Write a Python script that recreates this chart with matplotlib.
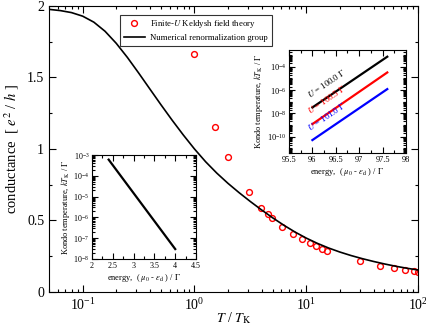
import numpy as np
import matplotlib
matplotlib.use("Agg")
import matplotlib.pyplot as plt
from matplotlib.ticker import LogLocator, MultipleLocator, FixedLocator, NullFormatter

plt.rcParams["font.family"] = ["Liberation Serif", "DejaVu Serif"]
plt.rcParams["mathtext.fontset"] = "stix"

# Keldysh field theory points (red open circles)
kft_t = [1.0, 1.53, 2.0, 3.06, 3.95, 4.59, 4.96, 6.09, 7.69, 9.2, 10.7, 12.2,
         13.7, 15.2, 30.5, 45.8, 60.7, 76.7, 91.6, 99.0]
kft_g = [1.664, 1.154, 0.944, 0.697, 0.590, 0.543, 0.515, 0.457, 0.406, 0.368,
         0.340, 0.319, 0.303, 0.289, 0.215, 0.182, 0.166, 0.154, 0.145, 0.142]

# NRG curve
nrg_t = [0.05, 0.0631, 0.0794, 0.1, 0.1259, 0.1585, 0.1995, 0.2512, 0.3162,
         0.3981, 0.5012, 0.631, 0.7943, 1.0, 1.259, 1.585, 1.995, 2.512, 3.162,
         3.981, 5.012, 6.31, 7.943, 10.0, 12.59, 15.85, 19.95, 25.12, 31.62,
         39.81, 50.12, 63.1, 79.43, 100.0]
nrg_g = [1.976, 1.9675, 1.9535, 1.9285, 1.8865, 1.823, 1.739, 1.64, 1.532,
         1.4205, 1.3095, 1.2015, 1.098, 1.0, 0.9105, 0.831, 0.7595, 0.694,
         0.6325, 0.574, 0.5185, 0.4665, 0.419, 0.3768, 0.3398, 0.3075, 0.2795,
         0.255, 0.2333, 0.2138, 0.196, 0.18, 0.166, 0.1538]

# left inset: Kondo temperature vs energy
inset1_e = [2.4, 4.0]
inset1_tk = [6e-4, 3e-8]

# right inset: three U values
inset2_e = [96.0, 97.6]
inset2_u_labels = [r"$U$ = 100.0 $\Gamma$", r"$U$ = 100.5 $\Gamma$", r"$U$ = 101.0 $\Gamma$"]
inset2_tk = [[3.2e-8, 7.2e-4], [1.2e-9, 3.2e-5], [5.1e-11, 1.2e-6]]
inset2_colors = ["black", "#ff0000", "#0000ff"]
inset2_label_y = [1.4e-7, 5.5e-9, 2.2e-10]


def style_ticks(ax, size_major=5, size_minor=2.5, labelsize=9):
    ax.tick_params(which="both", direction="in", top=True, right=True,
                   labelsize=labelsize, width=0.8)
    ax.tick_params(which="major", length=size_major)
    ax.tick_params(which="minor", length=size_minor)


fig = plt.figure(figsize=(4.27, 3.30), dpi=100)
ax = fig.add_axes([0.1148, 0.1152, 0.8642, 0.8668])

ax.plot(kft_t, kft_g, linestyle="none", marker="o", markersize=4.2,
        markerfacecolor="none", markeredgecolor="#ff0000", markeredgewidth=1.0,
        label=r"Finite-$U$ Keldysh field theory")
ax.plot(nrg_t, nrg_g, color="black", linewidth=1.2,
        label="Numerical renormalization group")

ax.set_xscale("log")
ax.set_xlim(0.05, 100)
ax.set_ylim(0, 2)
ax.yaxis.set_minor_locator(MultipleLocator(0.25))
ax.set_yticks([0, 0.5, 1, 1.5, 2])
ax.set_yticklabels(["0", "0.5", "1", "1.5", "2"])
ax.xaxis.set_major_locator(FixedLocator([0.1, 1, 10, 100]))
ax.xaxis.set_minor_locator(LogLocator(base=10, subs=np.arange(2, 10)))
ax.xaxis.set_minor_formatter(NullFormatter())
style_ticks(ax, labelsize=10)
ax.tick_params(axis="x", pad=4)

ax.set_xlabel(r"$T$ / $T_{\rm K}$", fontsize=10, va="center")
ax.xaxis.set_label_coords(0.5, -0.09)
ax.set_ylabel(r"conductance  [ $e^2$ / $h$ ]", fontsize=10.5, labelpad=4)

leg = ax.legend(loc="upper left", bbox_to_anchor=(0.192, 0.97), fontsize=6.3,
                frameon=True, fancybox=False, borderpad=0.45, handlelength=2.4,
                labelspacing=0.35, handletextpad=0.6, borderaxespad=0)
leg.get_frame().set_edgecolor("black")
leg.get_frame().set_linewidth(0.8)

# left inset
ax1 = fig.add_axes([0.2155, 0.2152, 0.2436, 0.315])
ax1.plot(inset1_e, inset1_tk, color="black", linewidth=1.6)
ax1.set_yscale("log")
ax1.set_xlim(2, 4.5)
ax1.set_ylim(1e-8, 1e-3)
ax1.set_xticks([2, 2.5, 3, 3.5, 4, 4.5])
ax1.set_xticklabels(["2", "2.5", "3", "3.5", "4", "4.5"])
ax1.xaxis.set_minor_locator(MultipleLocator(0.25))
ax1.yaxis.set_major_locator(LogLocator(base=10, numticks=10))
ax1.yaxis.set_minor_locator(LogLocator(base=10, subs=np.arange(2, 10), numticks=20))
ax1.yaxis.set_minor_formatter(NullFormatter())
style_ticks(ax1, size_major=4, size_minor=2, labelsize=5.8)
ax1.tick_params(pad=2)
ax1.set_xlabel(r"energy,  ( $\mu_0$ - $\varepsilon_{\rm d}$ ) / $\Gamma$", fontsize=6, labelpad=1.5)
ax1.set_ylabel(r"Kondo temperature, $kT_{\rm K}$ / $\Gamma$", fontsize=6, labelpad=1)

# right inset
ax2 = fig.add_axes([0.6768, 0.5364, 0.274, 0.312])
for tk, col, lab, ly in zip(inset2_tk, inset2_colors, inset2_u_labels, inset2_label_y):
    ax2.plot(inset2_e, tk, color=col, linewidth=1.6)
    ax2.text(95.98, ly, lab, color=col, fontsize=6.3, rotation=34,
             rotation_mode="anchor", ha="left", va="bottom")
ax2.set_yscale("log")
ax2.set_xlim(95.5, 98)
ax2.set_ylim(10 ** -11.4, 10 ** -2.57)
ax2.yaxis.set_major_locator(FixedLocator([1e-10, 1e-8, 1e-6, 1e-4]))
ax2.yaxis.set_minor_locator(LogLocator(base=10, subs=np.arange(1, 10), numticks=30))
ax2.yaxis.set_minor_formatter(NullFormatter())
ax2.set_xticks([95.5, 96, 96.5, 97, 97.5, 98])
ax2.set_xticklabels(["95.5", "96", "96.5", "97", "97.5", "98"])
ax2.xaxis.set_minor_locator(MultipleLocator(0.25))
style_ticks(ax2, size_major=4, size_minor=2, labelsize=6)
ax2.tick_params(pad=2)
ax2.set_xlabel(r"energy,  ( $\mu_0$ - $\varepsilon_{\rm d}$ ) / $\Gamma$", fontsize=6, labelpad=1.5)
ax2.set_ylabel(r"Kondo temperature, $kT_{\rm K}$ / $\Gamma$", fontsize=6, labelpad=1)

fig.savefig("out.png", dpi=100)
